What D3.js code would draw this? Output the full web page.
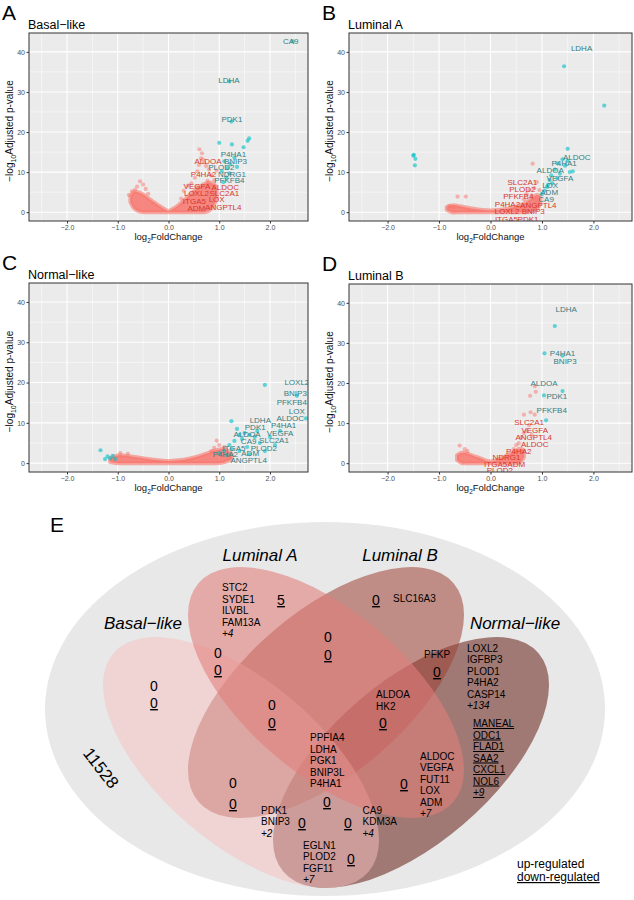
<!DOCTYPE html>
<html><head><meta charset="utf-8">
<script src="https://cdn.jsdelivr.net/npm/d3@7"></script>
<style>
body{margin:0;background:#fff}
svg{display:block}
text{font-family:"Liberation Sans",Arial,Helvetica,sans-serif}
</style>
</head><body>
<svg id="c" width="634" height="900"></svg>
<script>
// ---------------- DATA ----------------
const xTicks = [-2, -1, 0, 1, 2];
const yTicks = [0, 10, 20, 30, 40];
const panelLetters = ["A", "B", "C", "D"];
const panelTitles = ["Basal\u2212like", "Luminal A", "Normal\u2212like", "Luminal B"];

// Basal-like
const basalCloudX  = [-0.75,-0.68,-0.6,-0.5,-0.4,-0.3,-0.2,-0.1,0,0.1,0.2,0.3,0.4,0.5,0.6,0.7,0.8,0.88,0.95];
const basalCloudHi = [4.0,5.0,5.0,4.4,3.5,2.6,1.7,0.9,0.3,0.9,1.8,2.9,4.1,5.2,6.2,7.0,7.4,7.0,5.5];
const basalCloudLo = [2.5,1.0,0.3,0,0,0,0,0,0,0,0,0,0,0,0,0,0.4,1.5,3.5];
const basalRedX = [-0.78,-0.72,-0.66,-0.56,-0.5,-0.45,0.3,0.38,0.45,0.52,0.57,0.61,0.66,0.7,0.74,0.8,0.84,0.9,0.95,0.6,0.64,0.77,0.55,0.68,-0.62,-0.4,0.25,0.92];
const basalRedY = [4.3,5.2,5.6,7.7,6.9,5.8,5.3,6.6,7.2,8.6,10.2,15.7,14.7,12.4,11.5,10.6,9.2,8.0,10.4,11.8,13.4,7.8,6.3,13.2,6.4,4.6,3.4,6.6];
const basalCyanX = [2.45,1.2,1.24,1.0,1.25,1.48,1.56,1.59,1.1,1.16,1.05,1.2,1.14,1.3,1.22,1.35,1.08];
const basalCyanY = [42.6,32.6,22.6,17.3,16.9,16.2,17.8,18.4,12.7,11.0,10.2,9.7,8.6,13.6,12.0,11.3,7.5];
const basalLabel  = ["CA9","LDHA","PDK1","P4HA1","ALDOA","BNIP3","PLOD2","P4HA2","NDRG1","PFKFB4","VEGFA","ALDOC","LOXL2","SLC2A1","ITGA5","LOX","ADM","ANGPTL4"];
const basalLabelX = [2.41,1.19,1.25,1.28,0.78,1.32,1.04,0.69,1.25,1.2,0.56,1.12,0.55,1.1,0.51,0.95,0.55,1.08];
const basalLabelY = [42.7,33.0,23.3,14.4,12.8,12.8,11.2,9.4,9.4,8.0,6.6,6.3,4.7,4.7,2.8,3.2,1.1,1.3];
const basalLabelSig = [1,1,1,1,0,1,1,0,1,1,0,0,0,0,0,0,0,0];

// Luminal A
const lumACloudX  = [-0.85,-0.75,-0.6,-0.45,-0.3,-0.15,0,0.15,0.3,0.45,0.6,0.7,0.8,0.9,0.97];
const lumACloudHi = [1.3,1.7,1.5,1.1,0.8,0.55,0.45,0.55,0.8,1.2,1.8,2.5,3.4,4.3,4.0];
const lumACloudLo = [0.6,0,0,0,0,0,0,0,0,0,0,0,0.2,0.8,2.2];
const lumARedX = [0.82,-0.64,-0.48,-0.8,-0.72,0.7,0.75,0.85,0.65,0.9,0.8,0.95,0.88];
const lumARedY = [12.1,3.9,3.9,1.5,1.2,4.5,5.5,6.0,3.2,7.5,4.2,5.5,3.0];
const lumACyanX = [1.43,2.21,1.5,-1.49,-1.5,-1.46,-1.47,1.54,1.6,1.45,1.3,1.25,1.35,1.15,1.2,1.1,1.05,1.0,1.12,1.4,1.3,1.18,1.5];
const lumACyanY = [36.4,26.6,15.8,14.3,14.1,13.3,11.7,10.0,10.2,11.6,12.2,10.6,9.6,8.0,7.2,6.3,5.4,4.5,6.8,13.2,8.5,9.2,12.8];
const lumALabel  = ["LDHA","ALDOC","P4HA1","ALDOA","VEGFA","LOX","ADM","CA9","SLC2A1","PLOD2","PFKFB4","P4HA2","ANGPTL4","LOXL2","BNIP3","ITGA5","PDK1"];
const lumALabelX = [1.77,1.675,1.43,1.16,1.35,1.16,1.14,1.08,0.62,0.62,0.54,0.33,0.93,0.32,0.83,0.31,0.73];
const lumALabelY = [41.0,13.8,12.2,10.4,8.55,6.8,5.0,3.35,7.5,5.8,3.9,2.1,1.8,0.3,0.3,-1.7,-1.7];
const lumALabelSig = [1,1,1,1,1,1,1,1,0,0,0,0,0,0,0,0,0];

// Normal-like
const normCloudX  = [-1.15,-1.0,-0.8,-0.6,-0.4,-0.2,0,0.2,0.4,0.6,0.8,1.0,1.12,1.25];
const normCloudHi = [1.2,1.9,1.8,1.4,1.0,0.7,0.5,0.7,1.1,1.7,2.6,3.4,3.4,2.2];
const normCloudLo = [0.3,0,0,0,0,0,0,0,0,0,0,0,0.3,1.0];
const normRedX = [0.95,1.0,0.9,1.1,0.85,-0.95,-0.8,1.05];
const normRedY = [5.6,4.5,3.8,4.0,3.0,2.5,2.3,2.8];
const normCyanX = [1.9,2.53,2.71,1.24,1.35,1.5,1.6,1.7,1.45,1.3,1.2,1.25,1.4,1.55,1.8,2.0,2.2,1.1,1.0,-1.34,-1.2,-1.1,-1.15,-1.25,-1.05,1.6,1.9,2.1,1.15,1.75,1.4];
const normCyanY = [19.4,16.7,11.1,10.4,8.5,7.5,7.0,6.5,6.0,5.5,4.5,3.5,3.0,4.0,5.0,6.5,8.0,3.0,2.5,3.2,1.7,1.8,1.2,1.0,1.0,2.2,3.0,4.5,2.0,8.0,7.0];
const normLabel  = ["LOXL2","BNIP3","PFKFB4","LOX","ALDOC","LDHA","P4HA1","PDK1","ALDOA","VEGFA","CA9","SLC2A1","ITGA5","PLOD2","P4HA2","ADM","ANGPTL4"];
const normLabelX = [2.53,2.5,2.43,2.53,2.4,1.81,2.27,1.71,1.55,2.2,1.58,2.08,1.29,1.88,1.12,1.61,1.58];
const normLabelY = [20.1,17.4,15.0,12.9,11.2,10.65,9.4,9.0,7.3,7.5,5.5,5.6,3.6,3.6,2.2,2.5,0.7];
const normLabelSig = [1,1,1,1,1,1,1,1,1,1,1,1,1,1,1,1,1];

// Luminal B
const lumBCloudX  = [-0.65,-0.55,-0.45,-0.35,-0.2,-0.1,0,0.1,0.2,0.3,0.4,0.5,0.58,0.65];
const lumBCloudHi = [2.0,2.6,2.4,1.9,1.2,0.7,0.4,0.7,1.2,1.8,2.5,3.2,3.6,3.2];
const lumBCloudLo = [0.8,0,0,0,0,0,0,0,0,0,0,0,0.3,1.5];
const lumBRedX = [-0.6,0.86,0.88,0.77,0.78,0.65,0.86,0.7,0.6,0.65,0.55,0.5,0.75,0.8,0.45,-0.5,-0.45];
const lumBRedY = [4.4,19.2,17.8,16.8,12.7,12.1,12.1,8.0,6.5,7.5,5.0,4.5,9.5,7.0,3.5,3.5,3.0];
const lumBCyanX = [1.25,1.05,1.4,1.4,1.04,1.08];
const lumBCyanY = [34.2,27.4,26.8,18.0,16.9,10.7];
const lumBLabel  = ["LDHA","P4HA1","BNIP3","ALDOA","PDK1","PFKFB4","SLC2A1","VEGFA","ANGPTL4","ALDOC","P4HA2","NDRG1","ITGA5","ADM","PLOD2"];
const lumBLabelX = [1.47,1.40,1.45,1.04,1.29,1.19,0.75,0.86,0.84,0.86,0.55,0.31,0.1,0.5,0.18];
const lumBLabelY = [38.5,27.4,25.4,20.0,16.7,13.2,10.1,8.2,6.5,4.75,3.0,1.5,-0.3,-0.3,-1.8];
const lumBLabelSig = [1,1,1,1,1,1,0,0,0,0,0,0,0,0,0];

// Venn (E)
const vennSetNames = ["Basal\u2212like", "Luminal A", "Luminal B", "Normal\u2212like"];
const vennRegions  = ["A","B","C","D","AB","BC","CD","ABC","BCD","ABCD","AC","BD","ACD","ABD","AD"];
const vennUpGenes  = [[],["STC2","SYDE1","ILVBL","FAM13A"],["SLC16A3"],["LOXL2","IGFBP3","PLOD1","P4HA2","CASP14"],[],[],["PFKP"],[],["ALDOA","HK2"],["PPFIA4","LDHA","PGK1","BNIP3L","P4HA1"],[],["ALDOC","VEGFA","FUT11","LOX","ADM"],["PDK1","BNIP3"],["CA9","KDM3A"],["EGLN1","PLOD2","FGF11"]];
const vennUpMore   = [0,4,0,134,0,0,0,0,0,0,0,7,2,4,7];
const vennDownGenes= [[],[],[],["MANEAL","ODC1","FLAD1","SAA2","CXCL1","NOL6"],[],[],[],[],[],[],[],[],[],[],[]];
const vennDownMore = [0,0,0,9,0,0,0,0,0,0,0,0,0,0,0];
const vennDownCount= [0,5,0,15,0,0,0,0,0,0,0,0,0,0,0];
const vennOutside  = 11528;
const vennLegend   = ["up-regulated", "down-regulated"];

// ---------------- DRAW ----------------
const svg = d3.select("#c");
const RED = "#F8766D", CYAN = "#00BFC4", RED_T = "#d5372c", CYAN_T = "#367d80";

const panels = [
  {left:29,  top:33,  w:279, h:188, cX:basalCloudX,cHi:basalCloudHi,cLo:basalCloudLo, rX:basalRedX,rY:basalRedY, bX:basalCyanX,bY:basalCyanY, L:basalLabel,LX:basalLabelX,LY:basalLabelY,LS:basalLabelSig},
  {left:349, top:33,  w:283, h:188, cX:lumACloudX,cHi:lumACloudHi,cLo:lumACloudLo, rX:lumARedX,rY:lumARedY, bX:lumACyanX,bY:lumACyanY, L:lumALabel,LX:lumALabelX,LY:lumALabelY,LS:lumALabelSig},
  {left:29,  top:283, w:279, h:189, cX:normCloudX,cHi:normCloudHi,cLo:normCloudLo, rX:normRedX,rY:normRedY, bX:normCyanX,bY:normCyanY, L:normLabel,LX:normLabelX,LY:normLabelY,LS:normLabelSig},
  {left:349, top:284, w:283, h:188, cX:lumBCloudX,cHi:lumBCloudHi,cLo:lumBCloudLo, rX:lumBRedX,rY:lumBRedY, bX:lumBCyanX,bY:lumBCyanY, L:lumBLabel,LX:lumBLabelX,LY:lumBLabelY,LS:lumBLabelSig}
];

panels.forEach((p, i) => {
  const x = d3.scaleLinear().domain([-2.75, 2.75]).range([p.left, p.left + p.w]);
  const y = d3.scaleLinear().domain([-2.2, 44.7]).range([p.top + p.h, p.top]);
  const g = svg.append("g");
  const clipId = "clip" + i;
  svg.append("clipPath").attr("id", clipId).append("rect")
    .attr("x", p.left).attr("y", p.top).attr("width", p.w).attr("height", p.h);

  g.append("rect").attr("x", p.left).attr("y", p.top).attr("width", p.w).attr("height", p.h).attr("fill", "#EBEBEB");
  const xMinor = d3.range(-2.5, 2.6, 1), yMinor = [5, 15, 25, 35];
  g.selectAll(".xm").data(xMinor).join("line").attr("x1", d => x(d)).attr("x2", d => x(d))
    .attr("y1", p.top).attr("y2", p.top + p.h).attr("stroke", "#fff").attr("stroke-width", 0.5);
  g.selectAll(".ym").data(yMinor).join("line").attr("y1", d => y(d)).attr("y2", d => y(d))
    .attr("x1", p.left).attr("x2", p.left + p.w).attr("stroke", "#fff").attr("stroke-width", 0.5);
  g.selectAll(".xM").data(xTicks).join("line").attr("x1", d => x(d)).attr("x2", d => x(d))
    .attr("y1", p.top).attr("y2", p.top + p.h).attr("stroke", "#fff").attr("stroke-width", 1.1);
  g.selectAll(".yM").data(yTicks).join("line").attr("y1", d => y(d)).attr("y2", d => y(d))
    .attr("x1", p.left).attr("x2", p.left + p.w).attr("stroke", "#fff").attr("stroke-width", 1.1);

  const plot = g.append("g").attr("clip-path", `url(#${clipId})`);
  const cloud = p.cX.map((v, k) => ({x: v, hi: p.cHi[k], lo: p.cLo[k]}));
  const area = d3.area().x(d => x(d.x)).y0(d => y(d.lo)).y1(d => y(d.hi)).curve(d3.curveCatmullRom);
  plot.append("path").datum(cloud).attr("d", area).attr("fill", RED).attr("fill-opacity", 0.85)
    .attr("stroke", RED).attr("stroke-opacity", 0.6).attr("stroke-width", 4).attr("stroke-linejoin", "round");
  plot.selectAll(".rp").data(p.rX.map((v, k) => [v, p.rY[k]])).join("circle")
    .attr("cx", d => x(d[0])).attr("cy", d => y(d[1])).attr("r", 2.1).attr("fill", RED).attr("fill-opacity", 0.5);
  plot.selectAll(".cp").data(p.bX.map((v, k) => [v, p.bY[k]])).join("circle")
    .attr("cx", d => x(d[0])).attr("cy", d => y(d[1])).attr("r", 2.1).attr("fill", CYAN).attr("fill-opacity", 0.6);
  plot.selectAll(".lb").data(p.L.map((v, k) => ({t: v, x: p.LX[k], y: p.LY[k], s: p.LS[k]}))).join("text")
    .attr("x", d => x(d.x)).attr("y", d => y(d.y)).attr("dy", "0.35em").attr("text-anchor", "middle")
    .attr("font-size", 8).attr("fill", d => d.s ? CYAN_T : RED_T).text(d => d.t);

  g.append("rect").attr("x", p.left).attr("y", p.top).attr("width", p.w).attr("height", p.h)
    .attr("fill", "none").attr("stroke", "#333").attr("stroke-width", 1);

  const ax = g.append("g").attr("transform", `translate(0,${p.top + p.h})`)
    .call(d3.axisBottom(x).tickValues(xTicks).tickSize(2.5).tickPadding(1.5));
  const ay = g.append("g").attr("transform", `translate(${p.left},0)`)
    .call(d3.axisLeft(y).tickValues(yTicks).tickSize(2.5).tickPadding(1.5));
  [ax, ay].forEach(a => {
    a.select(".domain").remove();
    a.selectAll("line").attr("stroke", "#333");
    a.selectAll("text").attr("font-size", 7).attr("fill", "#4d4d4d").attr("font-family", "Liberation Sans, Arial, sans-serif");
  });

  svg.append("text").attr("x", p.left - 27).attr("y", p.top - 13).attr("font-size", 21).text(panelLetters[i]);
  svg.append("text").attr("x", p.left - 1).attr("y", p.top - 4).attr("font-size", 12.5).text(panelTitles[i]);
  const xt = svg.append("text").attr("x", p.left + p.w / 2).attr("y", p.top + p.h + 19)
    .attr("text-anchor", "middle").attr("font-size", 9.5).attr("fill", "#111");
  xt.append("tspan").text("log");
  xt.append("tspan").attr("font-size", 6.5).attr("dy", 2.5).text("2");
  xt.append("tspan").attr("dy", -2.5).text("FoldChange");
  const yt = svg.append("text").attr("transform", `translate(${p.left - 16},${p.top + p.h / 2 + 4}) rotate(-90)`)
    .attr("text-anchor", "middle").attr("font-size", 10).attr("fill", "#111");
  yt.append("tspan").text("\u2212log");
  yt.append("tspan").attr("font-size", 7).attr("dy", 3).text("10");
  yt.append("tspan").attr("dy", -3).text("Adjusted p-value");
});

// ---------------- VENN ----------------
svg.append("text").attr("x", 50).attr("y", 532).attr("font-size", 21).text("E");
const V = svg.append("g");
V.append("ellipse").attr("cx", 325).attr("cy", 709).attr("rx", 280).attr("ry", 187).attr("fill", "#e8e8e8");

// drawn bottom to top: Normal-like, Luminal B, Basal-like, Luminal A
const ell = [
  {cx:411, cy:762.5, rot:-40.6, fill:"rgb(112,47,39)",  op:0.6},
  {cx:326, cy:692.5, rot:-40.6, fill:"rgb(159,65,52)",  op:0.55},
  {cx:241, cy:762.5, rot: 40.6, fill:"rgb(248,192,192)", op:0.5},
  {cx:326, cy:692.5, rot: 40.6, fill:"rgb(225,125,122)", op:0.58}
];
V.selectAll(".el").data(ell).join("ellipse")
  .attr("cx", d => d.cx).attr("cy", d => d.cy).attr("rx", 168).attr("ry", 81)
  .attr("transform", d => `rotate(${d.rot},${d.cx},${d.cy})`)
  .attr("fill", d => d.fill).attr("fill-opacity", d => d.op);

const setLabelPos = [[143, 629], [260, 561], [400, 561], [515, 629]];
V.selectAll(".sl").data(vennSetNames).join("text")
  .attr("x", (d, k) => setLabelPos[k][0]).attr("y", (d, k) => setLabelPos[k][1])
  .attr("text-anchor", "middle").attr("font-size", 17).attr("font-style", "italic").text(d => d);

const regionLayout = {
  A:   {up:[154,691], dn:[154,708]},
  B:   {up:[222,591], dn:[281,605]},
  C:   {up:[393,601.5], dn:[376,605]},
  D:   {up:[467,651.5], dn:[473,727]},
  AB:  {up:[218,658], dn:[218,675]},
  BC:  {up:[328,642], dn:[328,660]},
  CD:  {up:[424,657.5], dn:[437,677]},
  ABC: {up:[272,710], dn:[272,728]},
  BCD: {up:[376,698], dn:[383,728]},
  ABCD:{up:[310,741], dn:[327,807]},
  AC:  {up:[233,788], dn:[233,809]},
  BD:  {up:[420,759.5], dn:[404,789]},
  ACD: {up:[261,813.5], dn:[302,828]},
  ABD: {up:[362.5,813.5], dn:[348,828]},
  AD:  {up:[303,848.5], dn:[351,864]}
};
const LH = 11.5;
vennRegions.forEach((r, k) => {
  const lay = regionLayout[r];
  const up = vennUpGenes[k], upMore = vennUpMore[k];
  if (up.length === 0) {
    V.append("text").attr("x", lay.up[0]).attr("y", lay.up[1]).attr("text-anchor", "middle")
      .attr("font-size", 14).text("0");
  } else {
    const lines = up.slice();
    if (upMore) lines.push("+" + upMore);
    V.selectAll(null).data(lines).join("text")
      .attr("x", lay.up[0]).attr("y", (d, j) => lay.up[1] + j * LH)
      .attr("font-size", 10).attr("font-style", d => d[0] === "+" ? "italic" : null).text(d => d);
  }
  const dn = vennDownGenes[k], dnMore = vennDownMore[k];
  if (dn.length === 0) {
    V.append("text").attr("x", lay.dn[0]).attr("y", lay.dn[1]).attr("text-anchor", "middle")
      .attr("font-size", 14).attr("text-decoration", "underline").text(vennDownCount[k]);
  } else {
    const lines = dn.slice();
    if (dnMore) lines.push("+" + dnMore);
    V.selectAll(null).data(lines).join("text")
      .attr("x", lay.dn[0]).attr("y", (d, j) => lay.dn[1] + j * LH)
      .attr("font-size", 10).attr("text-decoration", "underline")
      .attr("font-style", d => d[0] === "+" ? "italic" : null).text(d => d);
  }
});
V.append("text").attr("transform", "translate(101,768) rotate(52)").attr("text-anchor", "middle")
  .attr("dy", "0.35em").attr("font-size", 17).text(vennOutside);
V.append("text").attr("x", 517).attr("y", 868).attr("font-size", 12).text(vennLegend[0]);
V.append("text").attr("x", 517).attr("y", 881).attr("font-size", 12).attr("text-decoration", "underline").text(vennLegend[1]);
</script>
</body></html>
